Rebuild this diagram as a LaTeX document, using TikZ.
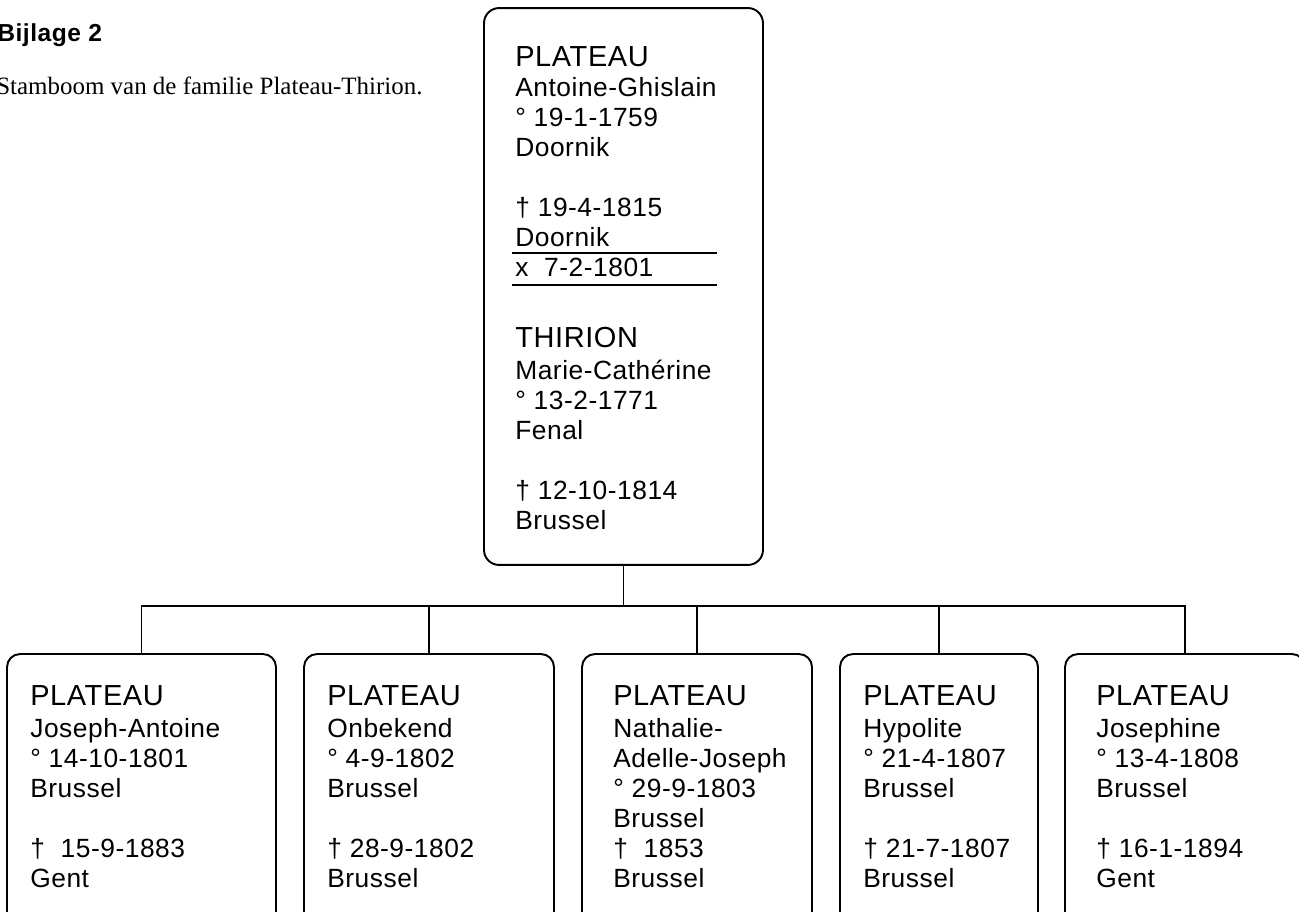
\documentclass[tikz,border=0pt]{standalone}
\usepackage{fontspec}
\setmainfont{Liberation Sans}[LetterSpace=2]
\newfontfamily\bijschrift{Liberation Serif}
\newcommand\famnaam[1]{{\fontsize{16.5}{20}\selectfont #1}}

\begin{document}
\begin{tikzpicture}[
  x=0.02cm, y=-0.02cm,
  font=\fontsize{15}{17.07}\selectfont,
  box/.style={rectangle, rounded corners=3mm, draw, line width=1.1pt, inner sep=0pt},
  kid/.style={box, rounded corners=2.6mm, minimum height=5.92cm},
  person/.style={anchor=north west, inner sep=0pt, align=left},
  rule/.style={line width=1.3pt},
  link/.style={line width=1.1pt}
]
  \useasboundingbox (0,0) rectangle (1299,912);
  \clip (0,0) rectangle (1299,912);

  % Titel.
  \node[anchor=base west, inner sep=0pt, font=\fontsize{14}{17}\selectfont\bfseries] (title) at (-3,42) {Bijlage 2};
  \node[anchor=base west, inner sep=0pt, font=\fontsize{14.2}{17}\selectfont\bijschrift] (caption) at (-4,95)
    {Stamboom van de familie Plateau-Thirion.};

  % Ouders.
  \node[box, minimum width=5.58cm, minimum height=11.14cm] (parents) at (623.5,286.5) {};
  \node[person] (father) at (515,46) {\famnaam{PLATEAU}\\Antoine-Ghislain\\° 19-1-1759\\Doornik\\[17.07pt]
    † 19-4-1815\\Doornik\\x\ \ 7-2-1801};
  \draw[rule] (512,253) -- (717,253);
  \draw[rule] (512,285) -- (717,285);
  \node[person] (mother) at (515,327) {\famnaam{THIRION}\\[1pt]Marie-Cathérine\\° 13-2-1771\\Fenal\\[17.07pt]
    † 12-10-1814\\Brussel};

  % Kinderen.
  \node[kid, minimum width=5.38cm] (kidone) at (141.5,802) {};
  \node[kid, minimum width=5.0cm] (kidtwo) at (429,802) {};
  \node[kid, minimum width=4.6cm] (kidthree) at (697,802) {};
  \node[kid, minimum width=3.96cm] (kidfour) at (939,802) {};
  \node[kid, minimum width=4.8cm] (kidfive) at (1185,802) {};

  \node[person] (joseph) at (30,685) {\famnaam{PLATEAU}\\[1.5pt]Joseph-Antoine\\° 14-10-1801\\Brussel\\[17.07pt]
    †\ \ 15-9-1883\\Gent};
  \node[person] (onbekend) at (327,685) {\famnaam{PLATEAU}\\[1.5pt]Onbekend\\° 4-9-1802\\Brussel\\[17.07pt]
    † 28-9-1802\\Brussel};
  \node[person] (nathalie) at (613,685) {\famnaam{PLATEAU}\\[1.5pt]Nathalie-\\Adelle-Joseph\\° 29-9-1803\\Brussel\\
    †\ \ 1853\\Brussel};
  \node[person] (hypolite) at (863,685) {\famnaam{PLATEAU}\\[1.5pt]Hypolite\\° 21-4-1807\\Brussel\\[17.07pt]
    † 21-7-1807\\Brussel};
  \node[person] (josephine) at (1096,685) {\famnaam{PLATEAU}\\[1.5pt]Josephine\\° 13-4-1808\\Brussel\\[17.07pt]
    † 16-1-1894\\Gent};

  % Verbindingen.
  \coordinate (bar) at (623,606);
  \draw[link] (parents.south) -- (parents.south |- bar);
  \draw[link] (kidone.north) -- (kidone.north |- bar) -- (kidfive.north |- bar) -- (kidfive.north);
  \foreach \k in {kidtwo,kidthree,kidfour}
    \draw[link] (\k.north |- bar) -- (\k.north);
\end{tikzpicture}
\end{document}
